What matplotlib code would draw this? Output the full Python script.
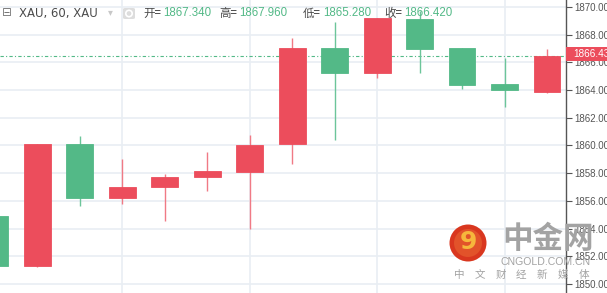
import matplotlib
matplotlib.use("Agg")
import matplotlib.pyplot as plt
from matplotlib.patches import Rectangle, Circle, FancyBboxPatch

# ---- data ----
opens  = [1854.90, 1851.30, 1860.10, 1856.23, 1856.98, 1857.70, 1858.11, 1860.10, 1867.04, 1865.26, 1869.13, 1867.04, 1864.42, 1863.84]
closes = [1851.30, 1860.10, 1856.23, 1857.00, 1857.75, 1858.16, 1860.04, 1867.04, 1865.26, 1869.20, 1867.00, 1864.35, 1863.99, 1866.43]
highs  = [1854.90, 1860.10, 1860.69, 1859.00, 1857.96, 1859.53, 1860.76, 1867.76, 1868.92, 1869.20, 1869.70, 1867.04, 1866.30, 1866.97]
lows   = [1851.30, 1851.23, 1855.63, 1855.80, 1854.57, 1856.74, 1853.95, 1858.66, 1860.40, 1864.90, 1865.21, 1864.10, 1862.76, 1863.80]
yticks = [1850, 1852, 1854, 1856, 1858, 1860, 1862, 1864, 1866, 1868, 1870]
last_price = 1866.43
header_items = [("开=", "1867.340"), ("高=", "1867.960"), ("低=", "1865.280"), ("收=", "1866.420")]
slogan = ["中", "文", "财", "经", "新", "媒", "体"]

UP = "#ec4d5c"
UP_WICK = "#f07a85"
DOWN = "#53b987"
DOWN_WICK = "#6cc59a"

W, H = 607, 293
fig = plt.figure(figsize=(W / 100, H / 100), dpi=100)
ax = fig.add_axes([0, 0, 566 / W, 1])
ax.set_xlim(0.129, 13.447)
ax.set_ylim(1849.35, 1870.505)

# grid
for t in yticks:
    ax.axhline(t, color="#e9eef3", lw=1.2, zorder=0)
for i in [3, 6, 9, 12]:
    ax.axvline(i, color="#e9eef3", lw=1.2, zorder=0)

bw = 0.635
for i, (o, c, h, l) in enumerate(zip(opens, closes, highs, lows)):
    up = c >= o
    col = UP if up else DOWN
    wcol = UP_WICK if up else DOWN_WICK
    ax.vlines(i, l, h, color=wcol, lw=1.0, zorder=2)
    ax.add_patch(Rectangle((i - bw / 2, min(o, c)), bw, abs(c - o),
                           facecolor=col, edgecolor=col, lw=0.6, zorder=3))

# last price line
ax.axhline(last_price, color="#53b987", lw=0.8, ls=(0, (3, 2, 1, 2)), zorder=1)

# right axis
ax.yaxis.tick_right()
ax.set_yticks(yticks)
ax.set_yticklabels([f"{t:.3f}" for t in yticks], fontsize=7.0, color="#555555",
                   family="Liberation Sans")
ax.tick_params(axis="y", direction="out", length=4, width=0.8, color="#555555", pad=2)
ax.set_xticks([])
for s in ["top", "bottom", "left"]:
    ax.spines[s].set_visible(False)
ax.spines["right"].set_color("#555555")
ax.spines["right"].set_linewidth(1.0)

# price label box
fig.patches.append(Rectangle((566 / W, 1 - 61 / H), 41 / W, 14 / H, transform=fig.transFigure,
                             facecolor=UP, edgecolor="none"))
fig.text(573 / W, 1 - 54 / H, f"{last_price:.2f}", fontsize=7.2, color="white",
         va="center", ha="left", family="Liberation Sans")

# header
def px(x, y):
    return x / W, 1 - y / H

def pin(x, y):  # pixel -> inches (for round shapes)
    return x / 100, (H - y) / 100

cjk = ["Noto Sans CJK SC", "DejaVu Sans"]
fig.text(*px(2, 13), "⊟", fontsize=8.5, color="#777777", va="center", family="DejaVu Sans")
fig.text(*px(19, 13), "XAU, 60, XAU", fontsize=8.4, color="#4a4a4a", va="center", family="DejaVu Sans")
fig.text(*px(108, 12), "▾", fontsize=7, color="#c8c8c8", va="center", family="DejaVu Sans")
fig.patches.append(FancyBboxPatch((123 / W, 1 - 19 / H), 12 / W, 11 / H, transform=fig.transFigure,
                                  boxstyle="round,pad=0.0,rounding_size=0.004",
                                  facecolor="#dddddd", edgecolor="none"))
fig.patches.append(Circle(pin(129, 13.5), 0.032, transform=fig.dpi_scale_trans,
                          facecolor="none", edgecolor="white", lw=1.2))
xs = [143, 219, 303, 384]
for x, (lab, val) in zip(xs, header_items):
    fig.text(*px(x, 13), lab, fontsize=8.3, color="#4a4a4a", va="center", family=cjk)
    fig.text(*px(x + 20, 13), val, fontsize=8.3, color="#53b987", va="center", family="Liberation Sans")

# watermark
fig.patches.append(Circle(pin(468, 243), 0.185, transform=fig.dpi_scale_trans,
                          facecolor="#d9371f", edgecolor="none", zorder=5))
fig.patches.append(Circle(pin(468, 243), 0.14, transform=fig.dpi_scale_trans,
                          facecolor="#e2532a", edgecolor="none", zorder=5))
fig.text(*px(468, 242), "9", fontsize=18, color="#f6b73c", ha="center", va="center",
         fontweight="bold", family="DejaVu Sans", zorder=6)
fig.text(*px(548, 239), "中金网", fontsize=22, color="#a3a3a3", ha="center", va="center",
         fontweight="bold", family=cjk, zorder=6)
fig.text(*px(546, 262), "CNGOLD.COM.CN", fontsize=7.6, color="#a3a3a3", ha="center", va="center",
         family="Liberation Sans", zorder=6)
for k, ch in enumerate(slogan):
    fig.text(*px(459 + k * 20.8, 275), ch, fontsize=7.6, color="#a3a3a3", ha="center", va="center",
             family=cjk, zorder=6)

fig.savefig("out.png", dpi=100, facecolor="white")
